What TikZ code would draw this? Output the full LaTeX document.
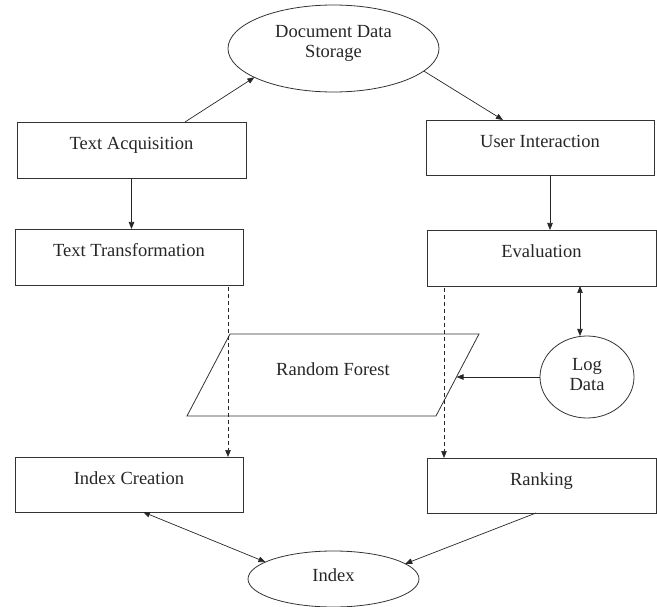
\documentclass[tikz,border=0pt]{standalone}
\usepackage{fontspec}
\setmainfont{Liberation Serif}
\usetikzlibrary{shapes.geometric,arrows.meta}
\begin{document}
\begin{tikzpicture}[x=1pt,y=-1pt,
  every node/.style={font=\fontsize{18.5}{20}\selectfont, text=black!85},
  box/.style={draw=black!80, line width=0.8pt, minimum width=228pt, minimum height=56pt,
    inner sep=0pt, outer sep=0pt, text height=6pt, text depth=6pt},
  oval/.style={draw=black!80, ellipse, line width=0.8pt, inner sep=0pt, outer sep=0pt},
  lbl/.style={inner sep=0pt, align=center},
  arr/.style={draw=black!85, line width=0.7pt, -{Triangle[length=7pt,width=5.5pt]}},
  biarr/.style={draw=black!85, line width=0.7pt, {Triangle[length=7pt,width=5.5pt]}-{Triangle[length=7pt,width=5.5pt]}},
  dasharr/.style={arr, dash pattern=on 4pt off 3pt}]
\useasboundingbox (0,0) rectangle (657,607);

% shapes
\node[oval, minimum width=211pt, minimum height=87pt] (dds) at (333.5,48.5) {};
\node[lbl] (ddsl) at (333.5,43) {Document Data\\Storage};

\node[box, minimum width=229pt] (ta) at (131.5,150) {Text Acquisition};
\node[box] (tt) at (129,257) {Text Transformation};
\node[box, minimum height=55pt] (ui) at (540,147.5) {User Interaction};
\node[box, minimum width=229pt] (ev) at (541.5,258) {Evaluation};
\node[box, minimum height=55pt] (ic) at (129,484.5) {Index Creation};
\node[box, minimum width=229pt, minimum height=55pt] (rk) at (541.5,485.5) {Ranking};

\draw[draw=black!80, line width=0.8pt] (187,416) -- (230,334) -- (479,334) -- (436,416) -- cycle;
\node[lbl] (rf) at (333,369) {Random Forest};
\coordinate (rfin) at (456.5,377);

\node[oval, minimum width=94pt, minimum height=82pt] (ld) at (587,377) {};
\node[lbl] (ldl) at (587,375) {Log\\Data};

\node[oval, minimum width=171pt, minimum height=56pt] (idx) at (333.5,579) {};
\node[lbl] (idxl) at (333.5,575) {Index};

% connectors
\draw[arr] ([xshift=53.5pt]ta.north) -- (dds.200);
\draw[arr] (dds.-14) -- ([xshift=-37pt]ui.north);
\draw[arr] (ta.south) -- (ta.south |- tt.north);
\draw[arr] ([xshift=10pt]ui.south) -- ([xshift=10pt]ui.south |- ev.north);
\draw[dasharr, shorten <=2pt] ([xshift=-15pt]tt.south east) -- ([xshift=-15pt]tt.south east |- ic.north);
\draw[dasharr, shorten <=2pt] ([xshift=17pt]ev.south west) -- ([xshift=17pt]ev.south west |- rk.north);
\draw[biarr] ([xshift=-7pt]ld.north) -- ([xshift=-7pt]ld.north |- ev.south);
\draw[arr] (ld.west) -- (rfin);
\draw[biarr] ([xshift=14pt]ic.south) -- (idx.166);
\draw[arr] ([xshift=-5.5pt]rk.south) -- (idx.12);
\end{tikzpicture}
\end{document}
